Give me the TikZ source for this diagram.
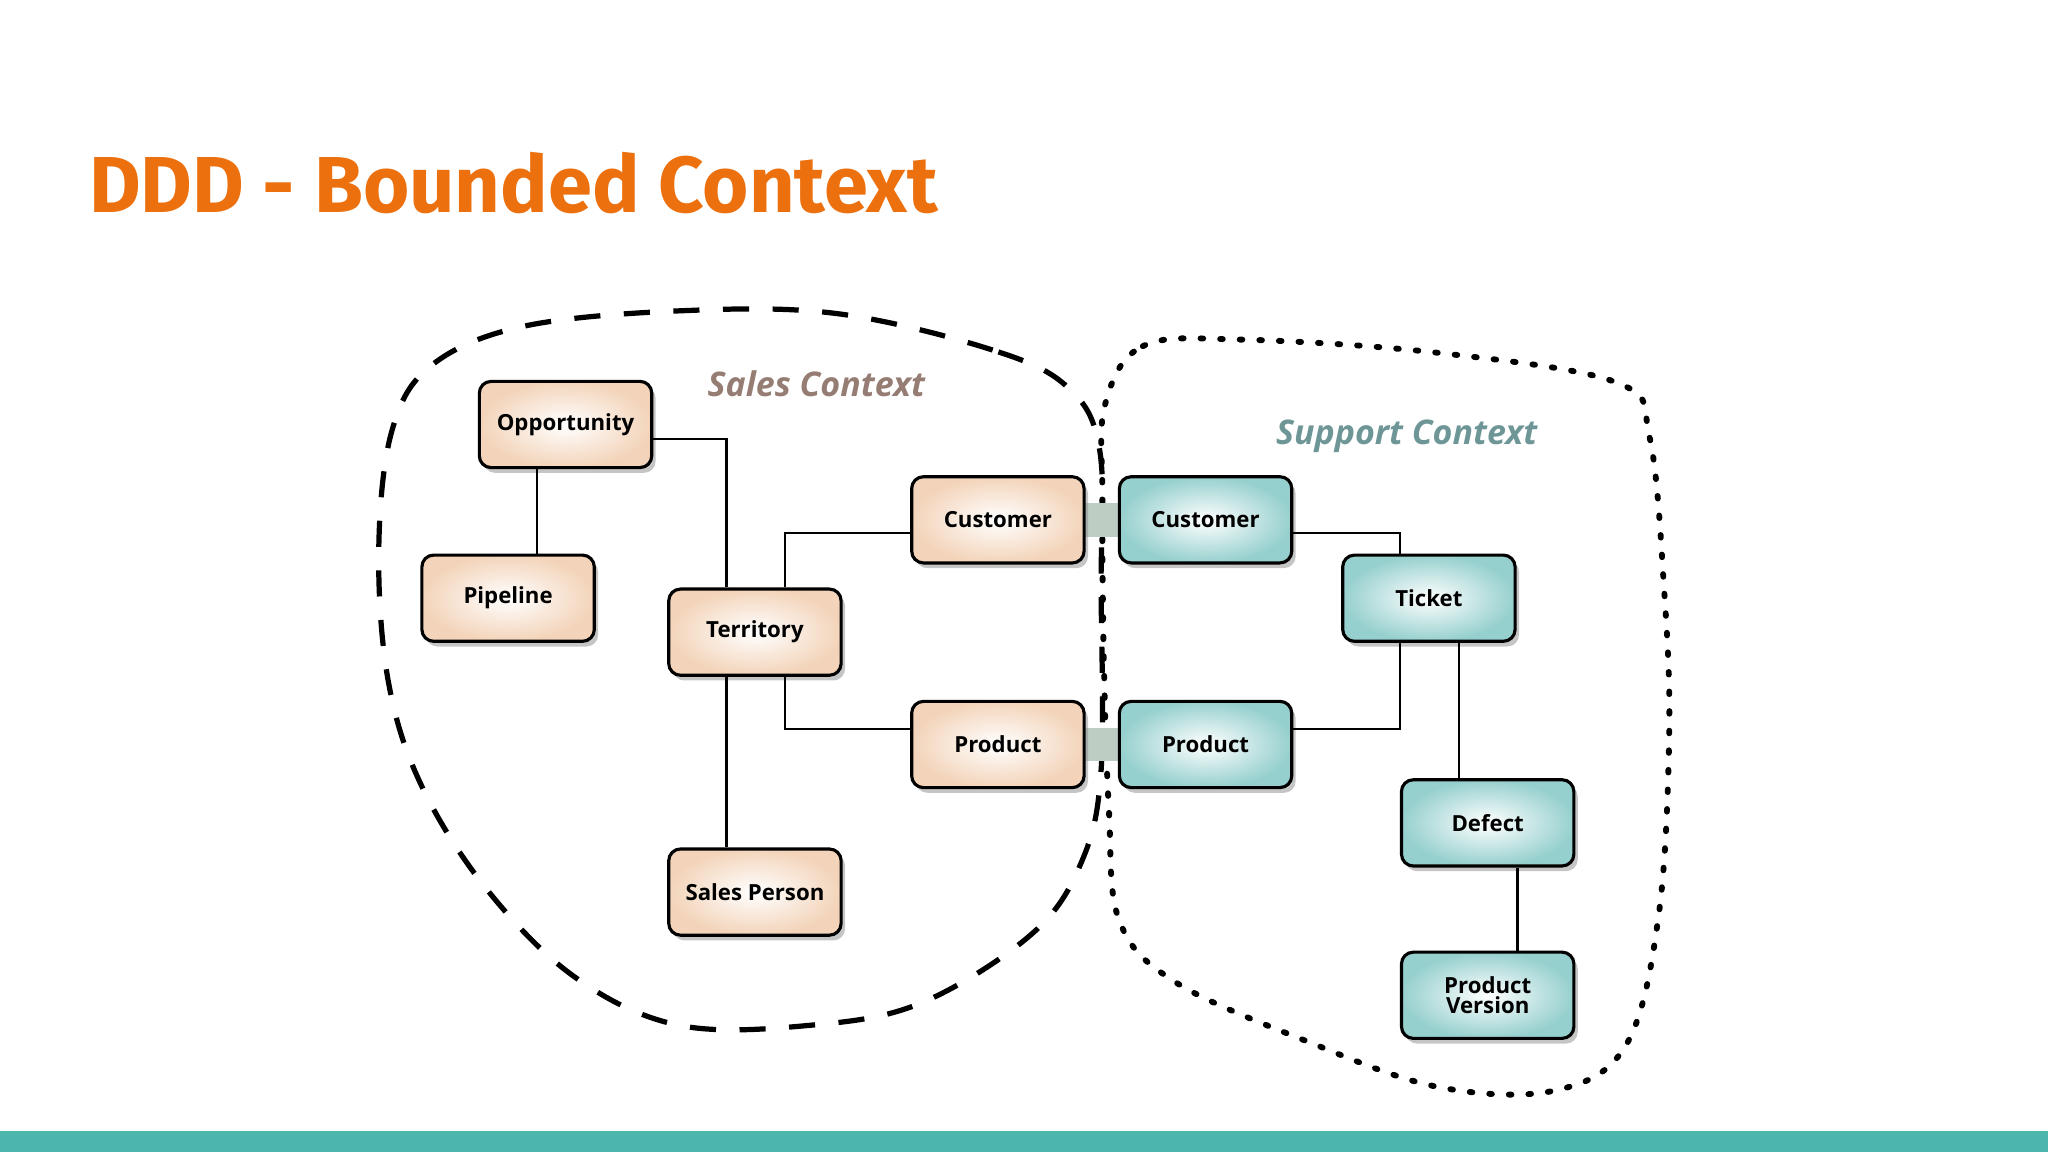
\documentclass[tikz,border=0pt]{standalone}
\usepackage{fontspec}
\setmainfont{Open Sans}
\newfontfamily\titlefont{Fira Sans}
\usetikzlibrary{shadows}
\definecolor{ttl}{RGB}{236,112,14}
\definecolor{bar}{RGB}{77,182,172}
\definecolor{peach}{RGB}{243,212,186}
\definecolor{aqua}{RGB}{150,208,206}
\definecolor{salesc}{RGB}{150,125,115}
\definecolor{suppc}{RGB}{110,150,150}
\definecolor{link}{RGB}{190,205,195}
\begin{document}
\begin{tikzpicture}[x=1pt,y=-1pt,
  box/.style={draw=black,line width=2.4pt,rounded corners=9pt,minimum width=132pt,minimum height=66pt,
    font=\fontsize{17}{19}\selectfont\bfseries,align=center,
    drop shadow={shadow xshift=3pt,shadow yshift=-4pt,fill=black!45}},
  sales/.style={box,inner color=white,outer color=peach},
  supp/.style={box,inner color=white,outer color=aqua},
  con/.style={line width=2pt}]
\useasboundingbox (0,0) rectangle (1568,882);
\fill[bar] (0,866) rectangle (1568,882);
\node[anchor=west,text=ttl,inner sep=0] (title) at (68,140) {\resizebox{650pt}{!}{\titlefont\bfseries\fontsize{80}{90}\selectfont DDD - Bounded Context}};
% contexts
\draw[line width=4pt,dash pattern=on 20pt off 18pt] plot[smooth cycle,tension=0.6] coordinates {(818,297)(760,268)(640,240)(520,238)(400,250)(330,280)(300,330)(290,420)(297,520)(322,600)(372,680)(440,748)(520,785)(620,785)(705,768)(790,715)(828,660)(843,590)(843,450)(842,345)};
\draw[line width=4.5pt,line cap=round,dash pattern=on 2pt off 13pt] plot[smooth cycle,tension=0.6] coordinates {(846,310)(875,265)(950,260)(1100,270)(1238,293)(1263,335)(1274,450)(1278,560)(1270,700)(1245,800)(1190,835)(1100,832)(1000,797)(900,752)(857,705)(849,620)(845,500)(844,380)};
\node[font=\fontsize{26}{30}\selectfont\itshape\bfseries,text=salesc] (lsales) at (625,294) {Sales Context};
\node[font=\fontsize{26}{30}\selectfont\itshape\bfseries,text=suppc] (lsupp) at (1077,334) {Support Context};
% links between contexts
\fill[link] (830,385) rectangle (857,411);
\fill[link] (830,557) rectangle (857,583);
% nodes
\node[sales] (opp) at (433,325) {Opportunity};
\node[sales] (pipe) at (389,458) {Pipeline};
\node[sales] (terr) at (578,484) {Territory};
\node[sales] (sp) at (578,683) {Sales Person};
\node[sales] (cs) at (764,398) {Customer};
\node[sales] (ps) at (764,570) {Product};
\node[supp] (ct) at (923,398) {Customer};
\node[supp] (pt) at (923,570) {Product};
\node[supp] (tk) at (1094,458) {Ticket};
\node[supp] (df) at (1139,630) {Defect};
\node[supp] (pv) at (1139,762) {Product\\[-4pt]Version};
% connectors
\draw[con] (opp.south -| 411,0) -- (pipe.north -| 411,0);
\draw[con] (opp.east |- 0,336) -- (556,336) -- (terr.north -| 556,0);
\draw[con] (terr.north -| 601,0) -- (601,408) -- (cs.west |- 0,408);
\draw[con] (terr.south -| 601,0) -- (601,558) -- (ps.west |- 0,558);
\draw[con] (terr.south -| 556,0) -- (sp.north -| 556,0);
\draw[con] (ct.east |- 0,408) -- (1072,408) -- (tk.north -| 1072,0);
\draw[con] (tk.south -| 1072,0) -- (1072,558) -- (pt.east |- 0,558);
\draw[con] (tk.south -| 1117,0) -- (df.north -| 1117,0);
\draw[con] (df.south -| 1162,0) -- (pv.north -| 1162,0);
\end{tikzpicture}
\end{document}
